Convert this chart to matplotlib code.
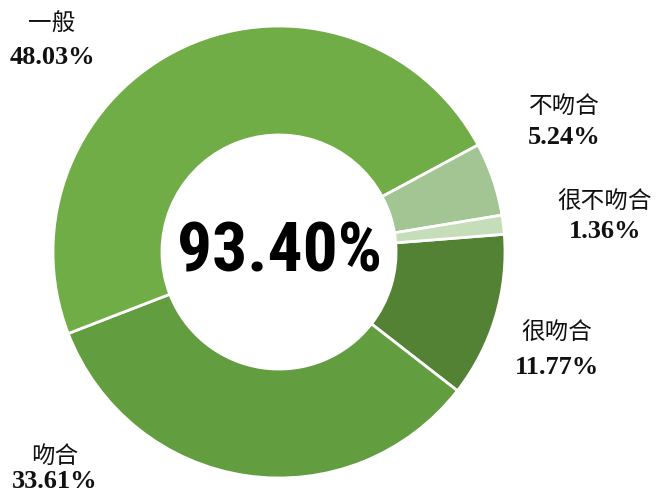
import matplotlib
matplotlib.use("Agg")
import matplotlib.pyplot as plt
from matplotlib import font_manager

# Survey response shares (percent)
categories = ["很吻合", "吻合", "一般", "不吻合", "很不吻合"]
shares = [11.77, 33.61, 48.03, 5.24, 1.36]
colors = ["#548235", "#629D3F", "#70AD47", "#A3C593", "#C6DDB9"]
overall_rate = 93.40

available = {f.name for f in font_manager.fontManager.ttflist}

def first_font(names, default="DejaVu Sans"):
    for n in names:
        if n in available:
            return n
    return default

center_font = first_font(["Impact", "Roboto Condensed", "Liberation Sans Narrow",
                          "DejaVu Sans Condensed", "Roboto", "DejaVu Sans"])
num_font = first_font(["Liberation Serif", "DejaVu Serif"])
cjk_font = "Noto Sans CJK SC"

W, H = 660, 493
fig = plt.figure(figsize=(W / 100, H / 100), dpi=100)
ax = fig.add_axes([0, 0, 1, 1])

cx, cy, r = 279, H - 252, 226
ax.pie(shares, colors=colors, startangle=4.5, counterclock=False,
       center=(cx, cy), radius=r, frame=True,
       wedgeprops=dict(width=r * 0.482, edgecolor="white", linewidth=2.0))
ax.set_xlim(0, W)
ax.set_ylim(0, H)
ax.set_aspect("equal")
ax.axis("off")

# label anchor points (pixel coords from top-left): name line, value line
label_pos = {
    "很吻合": (557, 333, 367),
    "吻合": (55, 456, 481),
    "一般": (52, 24, 58),
    "不吻合": (564, 106, 138),
    "很不吻合": (605, 202, 232),
}
for name, val in zip(categories, shares):
    x, y1, y2 = label_pos[name]
    ax.text(x, H - y1, name, ha="center", va="center", fontsize=17,
            family=[cjk_font, "DejaVu Sans"], color="#111111")
    ax.text(x, H - y2, f"{val:.2f}%", ha="center", va="center",
            fontsize=19, fontweight="bold", family=num_font, color="#111111")

ax.text(cx + 1, cy - 1, f"{overall_rate:.2f}%", ha="center", va="center",
        fontsize=50, fontweight="black", family=center_font, color="black")

fig.savefig("out.png", dpi=100)
